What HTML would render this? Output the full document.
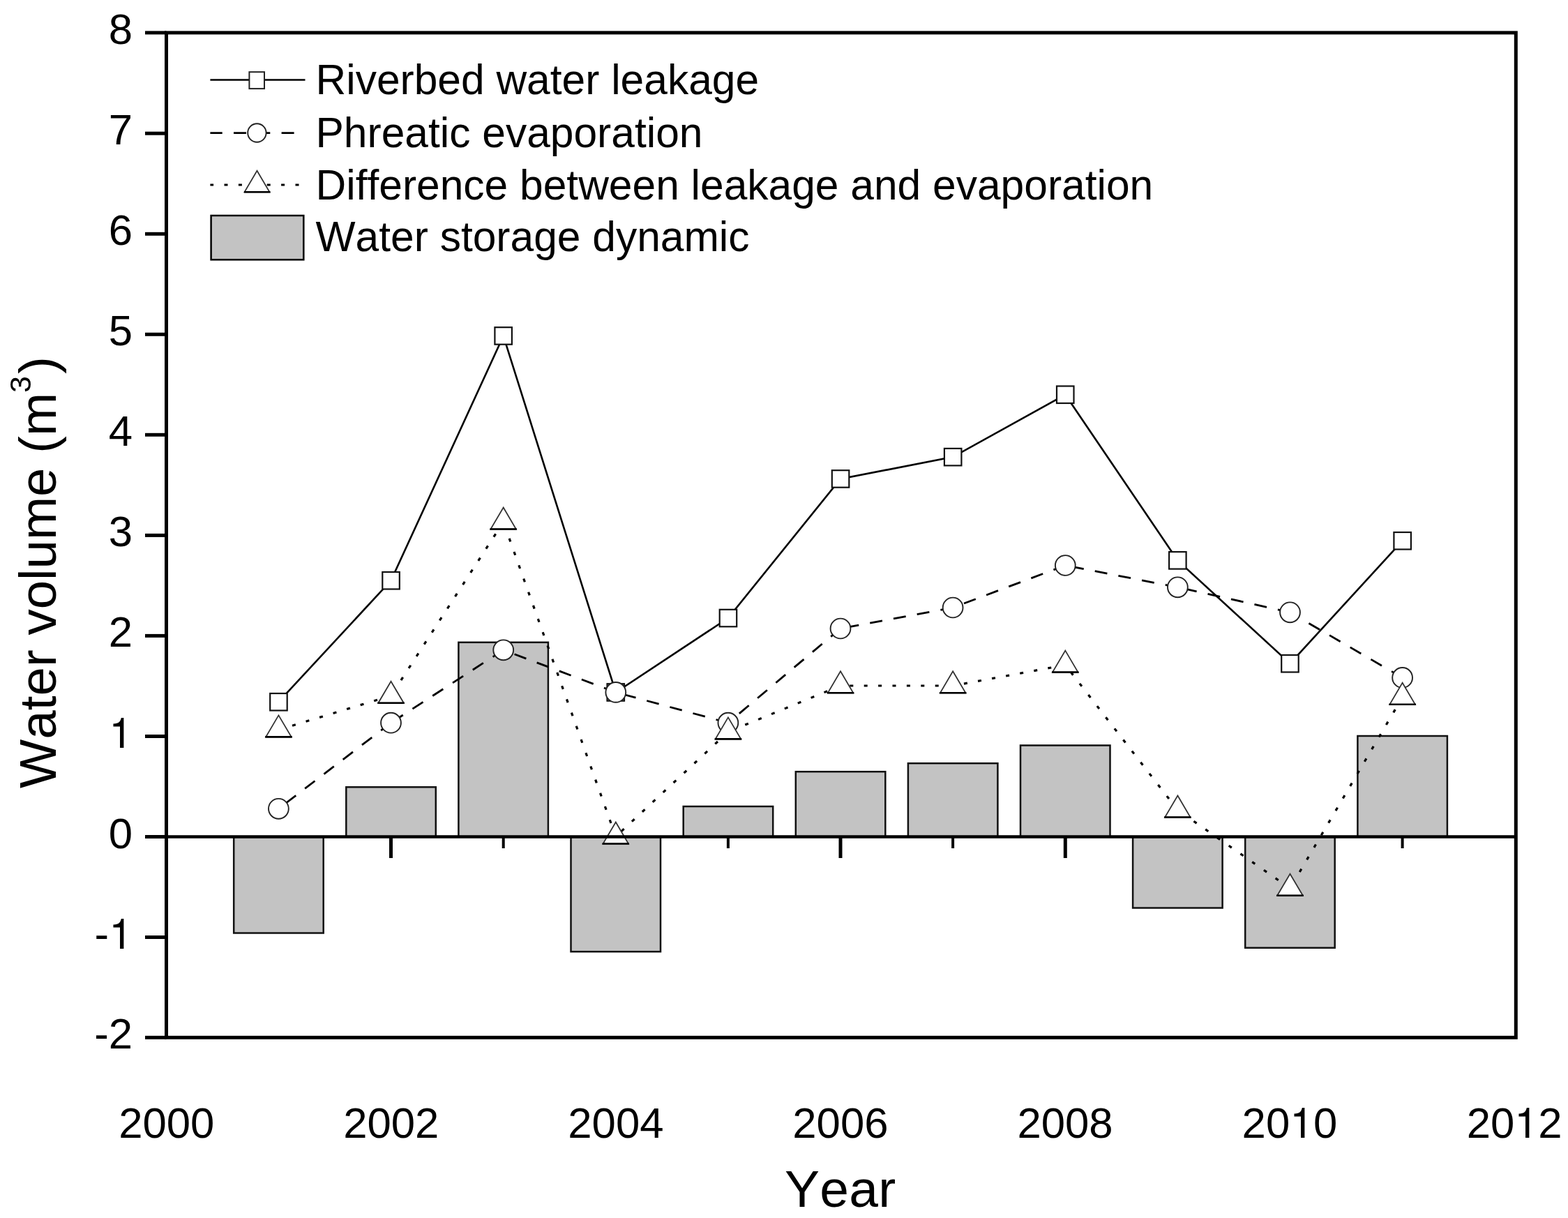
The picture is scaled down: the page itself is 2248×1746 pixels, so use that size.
<!DOCTYPE html><html><head><meta charset="utf-8"><title>Water volume chart</title><style>
html,body{margin:0;padding:0;background:#fff;}
body{width:2248px;height:1746px;overflow:hidden;}
svg{display:block;}
text{font-family:"Liberation Sans",Arial,sans-serif;fill:#000;font-kerning:none;}
.one{font-family:"TeX Gyre Heros","Liberation Sans",Arial,sans-serif;font-size:60.9px;}
</style></head><body>
<svg width="2248" height="1746" viewBox="0 0 2248 1746">
<rect x="0" y="0" width="2248" height="1746" fill="#fff"/>
<line x1="399.4" y1="1199.5" x2="399.4" y2="1216" stroke="#000" stroke-width="4"/>
<line x1="560.5" y1="1199.5" x2="560.5" y2="1230" stroke="#000" stroke-width="5"/>
<line x1="721.7" y1="1199.5" x2="721.7" y2="1216" stroke="#000" stroke-width="4"/>
<line x1="882.8" y1="1199.5" x2="882.8" y2="1230" stroke="#000" stroke-width="5"/>
<line x1="1043.9" y1="1199.5" x2="1043.9" y2="1216" stroke="#000" stroke-width="4"/>
<line x1="1205.0" y1="1199.5" x2="1205.0" y2="1230" stroke="#000" stroke-width="5"/>
<line x1="1366.1" y1="1199.5" x2="1366.1" y2="1216" stroke="#000" stroke-width="4"/>
<line x1="1527.3" y1="1199.5" x2="1527.3" y2="1230" stroke="#000" stroke-width="5"/>
<line x1="1688.4" y1="1199.5" x2="1688.4" y2="1216" stroke="#000" stroke-width="4"/>
<line x1="1849.5" y1="1199.5" x2="1849.5" y2="1230" stroke="#000" stroke-width="5"/>
<line x1="2010.6" y1="1199.5" x2="2010.6" y2="1216" stroke="#000" stroke-width="4"/>
<rect x="335.2" y="1199.5" width="128.5" height="138.0" fill="#c3c3c3" stroke="#111" stroke-width="2.5"/>
<rect x="496.3" y="1128.3" width="128.5" height="71.2" fill="#c3c3c3" stroke="#111" stroke-width="2.5"/>
<rect x="657.4" y="920.8" width="128.5" height="278.8" fill="#c3c3c3" stroke="#111" stroke-width="2.5"/>
<rect x="818.5" y="1199.5" width="128.5" height="164.7" fill="#c3c3c3" stroke="#111" stroke-width="2.5"/>
<rect x="979.7" y="1156.0" width="128.5" height="43.5" fill="#c3c3c3" stroke="#111" stroke-width="2.5"/>
<rect x="1140.8" y="1106.2" width="128.5" height="93.2" fill="#c3c3c3" stroke="#111" stroke-width="2.5"/>
<rect x="1301.9" y="1094.2" width="128.5" height="105.3" fill="#c3c3c3" stroke="#111" stroke-width="2.5"/>
<rect x="1463.0" y="1068.5" width="128.5" height="131.0" fill="#c3c3c3" stroke="#111" stroke-width="2.5"/>
<rect x="1624.1" y="1199.5" width="128.5" height="102.0" fill="#c3c3c3" stroke="#111" stroke-width="2.5"/>
<rect x="1785.2" y="1199.5" width="128.5" height="159.2" fill="#c3c3c3" stroke="#111" stroke-width="2.5"/>
<rect x="1946.4" y="1055.0" width="128.5" height="144.5" fill="#c3c3c3" stroke="#111" stroke-width="2.5"/>
<polyline points="399.4,1006.2 560.5,832.3 721.7,481.5 882.8,992.5 1043.9,886.0 1205.0,686.5 1366.1,655.1 1527.3,565.7 1688.4,803.4 1849.5,951.2 2010.6,775.3" fill="none" stroke="#000" stroke-width="2.6" stroke-linejoin="miter"/>
<rect x="387.2" y="994.0" width="24.5" height="24.5" fill="#fff" stroke="#111" stroke-width="2.2"/>
<rect x="548.3" y="820.0" width="24.5" height="24.5" fill="#fff" stroke="#111" stroke-width="2.2"/>
<rect x="709.4" y="469.2" width="24.5" height="24.5" fill="#fff" stroke="#111" stroke-width="2.2"/>
<rect x="870.5" y="980.2" width="24.5" height="24.5" fill="#fff" stroke="#111" stroke-width="2.2"/>
<rect x="1031.7" y="873.8" width="24.5" height="24.5" fill="#fff" stroke="#111" stroke-width="2.2"/>
<rect x="1192.8" y="674.2" width="24.5" height="24.5" fill="#fff" stroke="#111" stroke-width="2.2"/>
<rect x="1353.9" y="642.9" width="24.5" height="24.5" fill="#fff" stroke="#111" stroke-width="2.2"/>
<rect x="1515.0" y="553.5" width="24.5" height="24.5" fill="#fff" stroke="#111" stroke-width="2.2"/>
<rect x="1676.1" y="791.1" width="24.5" height="24.5" fill="#fff" stroke="#111" stroke-width="2.2"/>
<rect x="1837.2" y="939.0" width="24.5" height="24.5" fill="#fff" stroke="#111" stroke-width="2.2"/>
<rect x="1998.4" y="763.0" width="24.5" height="24.5" fill="#fff" stroke="#111" stroke-width="2.2"/>
<line x1="560.5" y1="1036.2" x2="399.4" y2="1159.3" stroke="#000" stroke-width="2.8" stroke-dasharray="18 16.3"/>
<line x1="721.7" y1="931.8" x2="560.5" y2="1036.2" stroke="#000" stroke-width="2.8" stroke-dasharray="18 16.3"/>
<line x1="882.8" y1="992.4" x2="721.7" y2="931.8" stroke="#000" stroke-width="2.8" stroke-dasharray="18 16.3"/>
<line x1="1043.9" y1="1036.2" x2="882.8" y2="992.4" stroke="#000" stroke-width="2.8" stroke-dasharray="18 16.3"/>
<line x1="1205.0" y1="901.0" x2="1043.9" y2="1036.2" stroke="#000" stroke-width="2.8" stroke-dasharray="18 16.3"/>
<line x1="1366.1" y1="871.0" x2="1205.0" y2="901.0" stroke="#000" stroke-width="2.8" stroke-dasharray="18 16.3"/>
<line x1="1527.3" y1="810.5" x2="1366.1" y2="871.0" stroke="#000" stroke-width="2.8" stroke-dasharray="18 16.3"/>
<line x1="1688.4" y1="841.8" x2="1527.3" y2="810.5" stroke="#000" stroke-width="2.8" stroke-dasharray="18 16.3"/>
<line x1="1849.5" y1="877.8" x2="1688.4" y2="841.8" stroke="#000" stroke-width="2.8" stroke-dasharray="18 16.3"/>
<line x1="2010.6" y1="971.4" x2="1849.5" y2="877.8" stroke="#000" stroke-width="2.8" stroke-dasharray="18 16.3"/>
<circle cx="399.4" cy="1159.3" r="14.4" fill="#fff" stroke="#222" stroke-width="1.9"/>
<circle cx="560.5" cy="1036.2" r="14.4" fill="#fff" stroke="#222" stroke-width="1.9"/>
<circle cx="721.7" cy="931.8" r="14.4" fill="#fff" stroke="#222" stroke-width="1.9"/>
<circle cx="882.8" cy="992.4" r="14.4" fill="#fff" stroke="#222" stroke-width="1.9"/>
<circle cx="1043.9" cy="1036.2" r="14.4" fill="#fff" stroke="#222" stroke-width="1.9"/>
<circle cx="1205.0" cy="901.0" r="14.4" fill="#fff" stroke="#222" stroke-width="1.9"/>
<circle cx="1366.1" cy="871.0" r="14.4" fill="#fff" stroke="#222" stroke-width="1.9"/>
<circle cx="1527.3" cy="810.5" r="14.4" fill="#fff" stroke="#222" stroke-width="1.9"/>
<circle cx="1688.4" cy="841.8" r="14.4" fill="#fff" stroke="#222" stroke-width="1.9"/>
<circle cx="1849.5" cy="877.8" r="14.4" fill="#fff" stroke="#222" stroke-width="1.9"/>
<circle cx="2010.6" cy="971.4" r="14.4" fill="#fff" stroke="#222" stroke-width="1.9"/>
<line x1="560.5" y1="997.4" x2="399.4" y2="1046.1" stroke="#000" stroke-width="3.2" stroke-dasharray="5 15.4"/>
<line x1="721.7" y1="748.2" x2="560.5" y2="997.4" stroke="#000" stroke-width="3.2" stroke-dasharray="5 15.4"/>
<line x1="882.8" y1="1199.2" x2="721.7" y2="748.2" stroke="#000" stroke-width="3.2" stroke-dasharray="5 15.4"/>
<line x1="1043.9" y1="1049.1" x2="882.8" y2="1199.2" stroke="#000" stroke-width="3.2" stroke-dasharray="5 15.4"/>
<line x1="1205.0" y1="983.0" x2="1043.9" y2="1049.1" stroke="#000" stroke-width="3.2" stroke-dasharray="5 15.4"/>
<line x1="1366.1" y1="983.0" x2="1205.0" y2="983.0" stroke="#000" stroke-width="3.2" stroke-dasharray="5 15.4"/>
<line x1="1527.3" y1="953.3" x2="1366.1" y2="983.0" stroke="#000" stroke-width="3.2" stroke-dasharray="5 15.4"/>
<line x1="1688.4" y1="1161.2" x2="1527.3" y2="953.3" stroke="#000" stroke-width="3.2" stroke-dasharray="5 15.4"/>
<line x1="1849.5" y1="1273.4" x2="1688.4" y2="1161.2" stroke="#000" stroke-width="3.2" stroke-dasharray="5 15.4"/>
<line x1="2010.6" y1="999.5" x2="1849.5" y2="1273.4" stroke="#000" stroke-width="3.2" stroke-dasharray="5 15.4"/>
<path d="M399.4,1025.4 L417.7,1056.4 L381.2,1056.4 Z" fill="#fff" stroke="#333" stroke-width="1.8" stroke-linejoin="miter"/><line x1="380.2" y1="1056.4" x2="418.7" y2="1056.4" stroke="#000" stroke-width="2.6"/>
<path d="M560.5,976.7 L578.8,1007.7 L542.3,1007.7 Z" fill="#fff" stroke="#333" stroke-width="1.8" stroke-linejoin="miter"/><line x1="541.3" y1="1007.7" x2="579.8" y2="1007.7" stroke="#000" stroke-width="2.6"/>
<path d="M721.7,727.5 L739.9,758.5 L703.4,758.5 Z" fill="#fff" stroke="#333" stroke-width="1.8" stroke-linejoin="miter"/><line x1="702.4" y1="758.5" x2="740.9" y2="758.5" stroke="#000" stroke-width="2.6"/>
<path d="M882.8,1178.5 L901.0,1209.5 L864.5,1209.5 Z" fill="#fff" stroke="#333" stroke-width="1.8" stroke-linejoin="miter"/><line x1="863.5" y1="1209.5" x2="902.0" y2="1209.5" stroke="#000" stroke-width="2.6"/>
<path d="M1043.9,1028.4 L1062.2,1059.4 L1025.7,1059.4 Z" fill="#fff" stroke="#333" stroke-width="1.8" stroke-linejoin="miter"/><line x1="1024.7" y1="1059.4" x2="1063.2" y2="1059.4" stroke="#000" stroke-width="2.6"/>
<path d="M1205.0,962.3 L1223.3,993.3 L1186.8,993.3 Z" fill="#fff" stroke="#333" stroke-width="1.8" stroke-linejoin="miter"/><line x1="1185.8" y1="993.3" x2="1224.3" y2="993.3" stroke="#000" stroke-width="2.6"/>
<path d="M1366.1,962.3 L1384.4,993.3 L1347.9,993.3 Z" fill="#fff" stroke="#333" stroke-width="1.8" stroke-linejoin="miter"/><line x1="1346.9" y1="993.3" x2="1385.4" y2="993.3" stroke="#000" stroke-width="2.6"/>
<path d="M1527.3,932.6 L1545.5,963.6 L1509.0,963.6 Z" fill="#fff" stroke="#333" stroke-width="1.8" stroke-linejoin="miter"/><line x1="1508.0" y1="963.6" x2="1546.5" y2="963.6" stroke="#000" stroke-width="2.6"/>
<path d="M1688.4,1140.5 L1706.6,1171.5 L1670.1,1171.5 Z" fill="#fff" stroke="#333" stroke-width="1.8" stroke-linejoin="miter"/><line x1="1669.1" y1="1171.5" x2="1707.6" y2="1171.5" stroke="#000" stroke-width="2.6"/>
<path d="M1849.5,1252.7 L1867.8,1283.7 L1831.2,1283.7 Z" fill="#fff" stroke="#333" stroke-width="1.8" stroke-linejoin="miter"/><line x1="1830.2" y1="1283.7" x2="1868.8" y2="1283.7" stroke="#000" stroke-width="2.6"/>
<path d="M2010.6,978.8 L2028.9,1009.8 L1992.4,1009.8 Z" fill="#fff" stroke="#333" stroke-width="1.8" stroke-linejoin="miter"/><line x1="1991.4" y1="1009.8" x2="2029.9" y2="1009.8" stroke="#000" stroke-width="2.6"/>
<line x1="208" y1="1199.5" x2="2173.3" y2="1199.5" stroke="#000" stroke-width="4.5"/>
<rect x="238.5" y="46.9" width="1934.8" height="1440.4" fill="none" stroke="#000" stroke-width="5"/>
<line x1="208" y1="1487.3" x2="238.5" y2="1487.3" stroke="#000" stroke-width="5"/>
<line x1="208" y1="1343.5" x2="238.5" y2="1343.5" stroke="#000" stroke-width="5"/>
<line x1="208" y1="1199.5" x2="238.5" y2="1199.5" stroke="#000" stroke-width="5"/>
<line x1="208" y1="1055.5" x2="238.5" y2="1055.5" stroke="#000" stroke-width="5"/>
<line x1="208" y1="911.4" x2="238.5" y2="911.4" stroke="#000" stroke-width="5"/>
<line x1="208" y1="767.4" x2="238.5" y2="767.4" stroke="#000" stroke-width="5"/>
<line x1="208" y1="623.3" x2="238.5" y2="623.3" stroke="#000" stroke-width="5"/>
<line x1="208" y1="479.3" x2="238.5" y2="479.3" stroke="#000" stroke-width="5"/>
<line x1="208" y1="335.3" x2="238.5" y2="335.3" stroke="#000" stroke-width="5"/>
<line x1="208" y1="191.2" x2="238.5" y2="191.2" stroke="#000" stroke-width="5"/>
<line x1="208" y1="46.9" x2="238.5" y2="46.9" stroke="#000" stroke-width="5"/>
<text x="190" y="1503.3" font-size="61.7" text-anchor="end">-2</text>
<text x="190" y="1359.5" font-size="61.7" text-anchor="end">-<tspan class="one">1</tspan></text>
<text x="190" y="1215.5" font-size="61.7" text-anchor="end">0</text>
<text x="190" y="1071.5" font-size="61.7" text-anchor="end"><tspan class="one">1</tspan></text>
<text x="190" y="927.4" font-size="61.7" text-anchor="end">2</text>
<text x="190" y="783.4" font-size="61.7" text-anchor="end">3</text>
<text x="190" y="639.3" font-size="61.7" text-anchor="end">4</text>
<text x="190" y="495.3" font-size="61.7" text-anchor="end">5</text>
<text x="190" y="351.3" font-size="61.7" text-anchor="end">6</text>
<text x="190" y="207.2" font-size="61.7" text-anchor="end">7</text>
<text x="190" y="62.9" font-size="61.7" text-anchor="end">8</text>
<text x="238.8" y="1631" font-size="61.7" text-anchor="middle">2000</text>
<text x="560.8" y="1631" font-size="61.7" text-anchor="middle">2002</text>
<text x="882.9" y="1631" font-size="61.7" text-anchor="middle">2004</text>
<text x="1204.9" y="1631" font-size="61.7" text-anchor="middle">2006</text>
<text x="1527.0" y="1631" font-size="61.7" text-anchor="middle">2008</text>
<text x="1849.0" y="1631" font-size="61.7" text-anchor="middle">20<tspan class="one">1</tspan>0</text>
<text x="2171.1" y="1631" font-size="61.7" text-anchor="middle">20<tspan class="one">1</tspan>2</text>
<text x="1125" y="1729.5" font-size="75" letter-spacing="0.3">Year</text>
<text transform="translate(80.3,1130) rotate(-90)" x="0" y="0" font-size="74.5">Water volume (m<tspan font-size="43" dy="-36">3</tspan><tspan dx="3" dy="36">)</tspan></text>
<line x1="301.4" y1="114.5" x2="437.5" y2="114.5" stroke="#000" stroke-width="2.6"/>
<rect x="357.4" y="103.2" width="21.6" height="23.9" fill="#fff" stroke="#222" stroke-width="2"/>
<line x1="421.6" y1="190.6" x2="301.4" y2="190.6" stroke="#000" stroke-width="2.8" stroke-dasharray="18 16.3"/>
<circle cx="368.4" cy="190.5" r="13.2" fill="#fff" stroke="#222" stroke-width="1.9"/>
<line x1="428.5" y1="265" x2="301.4" y2="265" stroke="#000" stroke-width="3.2" stroke-dasharray="5 15.4"/>
<path d="M368.5,244.8 L386.5,275.3 L350.5,275.3 Z" fill="#fff" stroke="#333" stroke-width="1.8"/><line x1="350" y1="275.3" x2="387.5" y2="275.3" stroke="#000" stroke-width="2.4"/>
<rect x="302.6" y="309" width="132.7" height="63.3" fill="#c3c3c3" stroke="#000" stroke-width="2.5"/>
<text x="452.5" y="134.9" font-size="60.5">Riverbed water leakage</text>
<text x="452.5" y="210.5" font-size="60.5">Phreatic evaporation</text>
<text x="452.5" y="286.0" font-size="60.5">Difference between leakage and evaporation</text>
<text x="452.5" y="360.4" font-size="60.5">Water storage dynamic</text>
</svg></body></html>
